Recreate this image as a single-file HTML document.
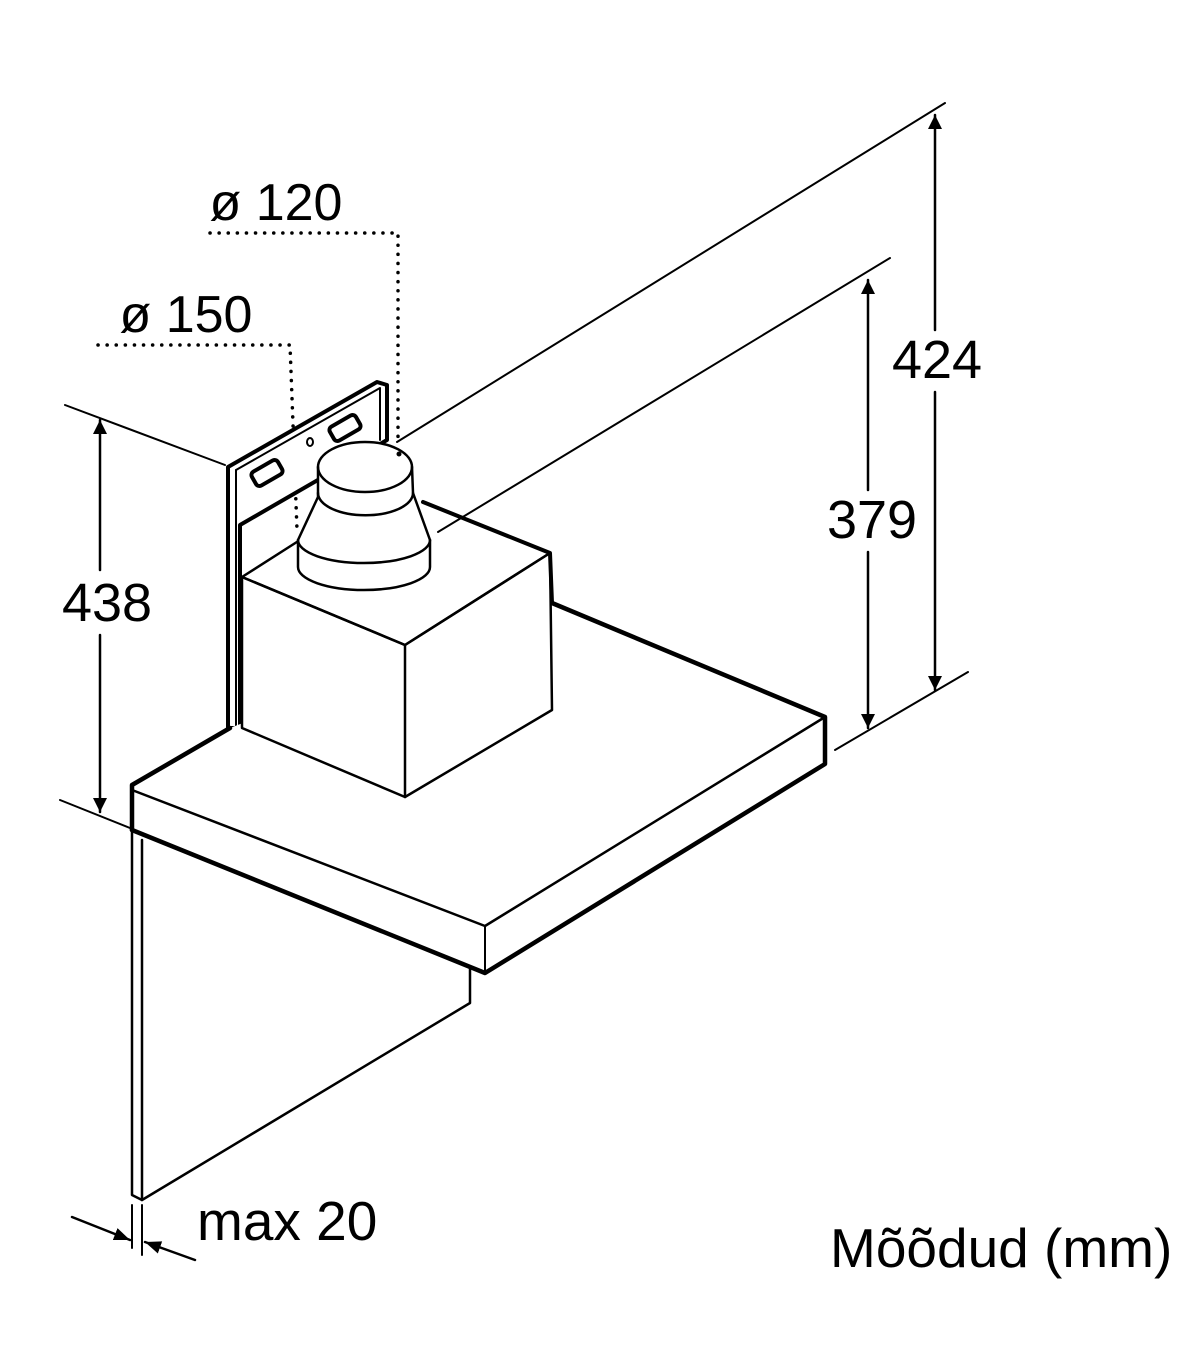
<!DOCTYPE html>
<html><head><style>html,body{margin:0;padding:0;background:#fff}svg{display:block}</style></head>
<body>
<svg width="1200" height="1372" viewBox="0 0 1200 1372" xmlns="http://www.w3.org/2000/svg">
<defs>
<marker id="ar" viewBox="0 0 10 10" refX="10" refY="5" markerWidth="16" markerHeight="16" markerUnits="userSpaceOnUse" orient="auto"><path d="M0,1 L10,5 L0,9 Z" fill="#000"/></marker>
<marker id="ar2" viewBox="0 0 10 10" refX="10" refY="5" markerWidth="14" markerHeight="26" markerUnits="userSpaceOnUse" orient="auto"><path d="M0,0 L10,5 L0,10 Z" fill="#000"/></marker>
</defs>
<g fill="none" stroke="#000" stroke-linejoin="round" stroke-linecap="round">
<line x1="397" y1="442" x2="945" y2="103" stroke-width="2"/>
<line x1="438" y1="532" x2="890" y2="258" stroke-width="2"/>
<line x1="835" y1="750" x2="968" y2="672" stroke-width="2"/>
<line x1="65" y1="405" x2="225" y2="465" stroke-width="2"/>
<line x1="60" y1="800" x2="130" y2="828" stroke-width="2"/>
<line x1="935" y1="330" x2="935" y2="115" stroke-width="2.5" marker-end="url(#ar2)"/>
<line x1="935" y1="392" x2="935" y2="690" stroke-width="2.5" marker-end="url(#ar2)"/>
<line x1="868" y1="490" x2="868" y2="280" stroke-width="2.5" marker-end="url(#ar2)"/>
<line x1="868" y1="552" x2="868" y2="728" stroke-width="2.5" marker-end="url(#ar2)"/>
<line x1="100" y1="570" x2="100" y2="420" stroke-width="2.5" marker-end="url(#ar2)"/>
<line x1="100" y1="635" x2="100" y2="812" stroke-width="2.5" marker-end="url(#ar2)"/>
<polyline points="210,233 398,233 398,440" stroke-width="3.5" stroke-dasharray="0.1 9"/>
<polyline points="98,345 290,345 297,530" stroke-width="3.5" stroke-dasharray="0.1 9"/>
<polyline points="132,830 132,1195 142,1200 142,840" stroke-width="2.5"/>
<polyline points="142,1200 470,1003 470,969" stroke-width="2.5"/>
<polygon points="228,467 377,382 387,385 387,440 240,525 240,728 228,728" stroke-width="4" fill="#fff"/>
<polyline points="236,470 236,728" stroke-width="2"/>
<polyline points="236,470 380,388 380,440" stroke-width="2"/>
<rect x="252" y="465" width="30" height="16" rx="4" transform="rotate(-30 267 473)" stroke-width="4"/>
<rect x="330" y="420" width="30" height="16" rx="4" transform="rotate(-30 345 428)" stroke-width="4"/>
<ellipse cx="310" cy="442" rx="3" ry="4" stroke-width="2"/>
<polygon points="132,785 230,728 552,603 825,717 825,764 485,973 132,830" fill="#fff" stroke="none"/>
<polyline points="132,830 132,785 230,728" stroke-width="4.5"/>
<polyline points="552,603 825,717 825,764 485,973 132,830" stroke-width="4.5"/>
<polyline points="132,790 485,926 825,717" stroke-width="2.5"/>
<line x1="485" y1="926" x2="485" y2="973" stroke-width="2"/>
<polygon points="242,577 405,645 550,553 552,710 405,797 242,728" fill="#fff" stroke-width="2.5"/>
<polyline points="242,577 405,645 550,553" stroke-width="2.5"/>
<line x1="405" y1="645" x2="405" y2="797" stroke-width="2.5"/>
<line x1="242" y1="577" x2="300" y2="540" stroke-width="2.5"/>
<polyline points="423,502 550,553 552,603" stroke-width="4"/>
<path d="M298,540 L318,497 L318,467 A47,25 0 0 1 412,467 L413,493 L430,540 L430,567 A66,23 0 0 1 298,567 Z" fill="#fff" stroke-width="2.5"/>
<path d="M298,540 A66,23 0 0 0 430,540" stroke-width="2.5"/>
<path d="M318,467 A47,25 0 0 0 412,467" stroke-width="2.5"/>
<path d="M318,493 A47,22 0 0 0 413,493" stroke-width="2.5"/>
<circle cx="399" cy="454" r="2" fill="#000"/>
<line x1="132" y1="1205" x2="132" y2="1248" stroke-width="2"/>
<line x1="142" y1="1205" x2="142" y2="1255" stroke-width="2"/>
<line x1="72" y1="1217" x2="130" y2="1240" stroke-width="2.5" marker-end="url(#ar)"/>
<line x1="195" y1="1260" x2="145" y2="1242" stroke-width="2.5" marker-end="url(#ar)"/>
</g>
<g font-family="Liberation Sans, sans-serif" fill="#000">
<text x="276" y="220" font-size="52" text-anchor="middle">ø 120</text>
<text x="186" y="332" font-size="52" text-anchor="middle">ø 150</text>
<text x="937" y="378" font-size="54" text-anchor="middle">424</text>
<text x="872" y="538" font-size="54" text-anchor="middle">379</text>
<text x="107" y="621" font-size="54" text-anchor="middle">438</text>
<text x="197" y="1240" font-size="55">max 20</text>
<text x="830" y="1267" font-size="55">Mõõdud (mm)</text>
</g>
</svg>
</body></html>
